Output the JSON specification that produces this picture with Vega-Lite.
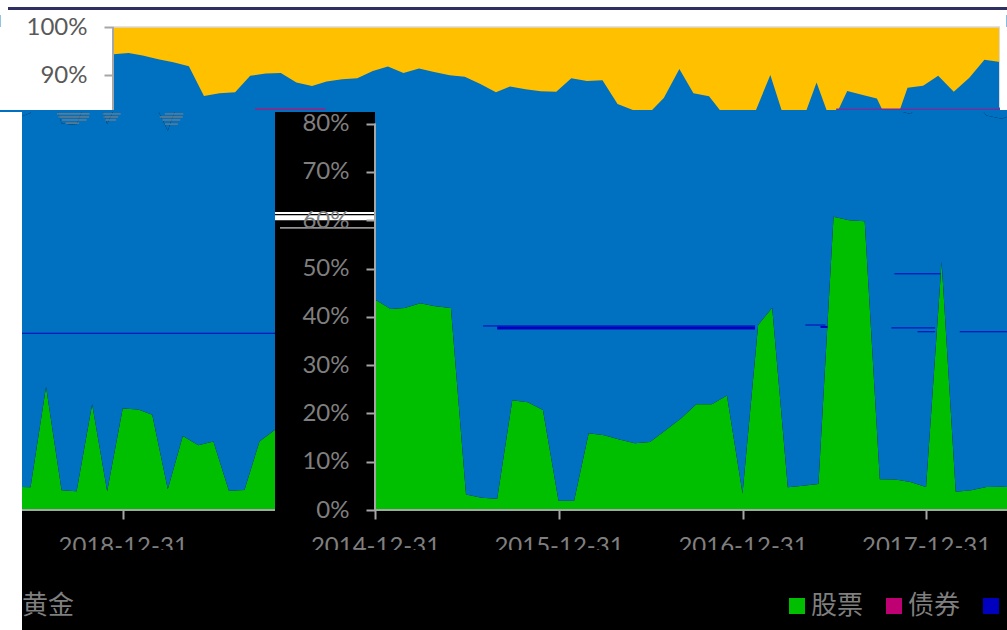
{"$schema":"https://vega.github.io/schema/vega-lite/v6.json","padding":0,"background":"#0070C0","spacing":0,"resolve":{"scale":{"color":"independent"}},"config":{"view":{"stroke":null},"font":"Lato"},"datasets":{"alloc":[
{"d":"2014-12-31","股票":0.436,"基金":0.5075,"其他":0.0565},{"d":"2015-01-31","股票":0.416,"基金":0.53,"其他":0.054},{"d":"2015-02-28","股票":0.418,"基金":0.523,"其他":0.059},{"d":"2015-03-31","股票":0.428,"基金":0.505,"其他":0.067},{"d":"2015-04-30","股票":0.422,"基金":0.505,"其他":0.073},{"d":"2015-05-31","股票":0.418,"基金":0.501,"其他":0.081},{"d":"2015-06-30","股票":0.032,"基金":0.825,"其他":0.143},{"d":"2015-07-31","股票":0.0255,"基金":0.8375,"其他":0.137},{"d":"2015-08-31","股票":0.0235,"基金":0.8415,"其他":0.135},{"d":"2015-09-30","股票":0.227,"基金":0.672,"其他":0.101},{"d":"2015-10-31","股票":0.223,"基金":0.681,"其他":0.096},{"d":"2015-11-30","股票":0.207,"基金":0.698,"其他":0.095},{"d":"2015-12-31","股票":0.019,"基金":0.866,"其他":0.115},{"d":"2016-01-31","股票":0.019,"基金":0.859,"其他":0.122},{"d":"2016-02-29","股票":0.159,"基金":0.728,"其他":0.113},{"d":"2016-03-31","股票":0.155,"基金":0.737,"其他":0.108},{"d":"2016-04-30","股票":0.146,"基金":0.748,"其他":0.106},{"d":"2016-05-31","股票":0.138,"基金":0.771,"其他":0.091},{"d":"2016-06-30","股票":0.141,"基金":0.777,"其他":0.082},{"d":"2016-07-31","股票":0.165,"基金":0.74,"其他":0.095},{"d":"2016-08-31","股票":0.19,"基金":0.724,"其他":0.086},{"d":"2016-09-30","股票":0.219,"基金":0.688,"其他":0.093},{"d":"2016-10-31","股票":0.219,"基金":0.681,"其他":0.1},{"d":"2016-11-30","股票":0.237,"基金":0.66,"其他":0.103},{"d":"2016-12-31","股票":0.034,"基金":0.848,"其他":0.118},{"d":"2017-01-31","股票":0.383,"基金":0.482,"其他":0.135},{"d":"2017-02-28","股票":0.419,"基金":0.458,"其他":0.123},{"d":"2017-03-31","股票":0.047,"基金":0.824,"其他":0.129},{"d":"2017-04-30","股票":0.05,"基金":0.817,"其他":0.133},{"d":"2017-05-31","股票":0.054,"基金":0.812,"其他":0.134},{"d":"2017-06-30","股票":0.607,"基金":0.287,"其他":0.106},{"d":"2017-07-31","股票":0.6,"基金":0.288,"其他":0.112},{"d":"2017-08-31","股票":0.598,"基金":0.292,"其他":0.11},{"d":"2017-09-30","股票":0.0635,"基金":0.777,"其他":0.1595},{"d":"2017-10-31","股票":0.063,"基金":0.765,"其他":0.172},{"d":"2017-11-30","股票":0.058,"基金":0.762,"其他":0.18},{"d":"2017-12-31","股票":0.0476,"基金":0.8054,"其他":0.147},{"d":"2018-01-31","股票":0.514,"基金":0.399,"其他":0.087},{"d":"2018-02-28","股票":0.038,"基金":0.825,"其他":0.137},{"d":"2018-03-31","股票":0.041,"基金":0.8155,"其他":0.1435},{"d":"2018-04-30","股票":0.0476,"基金":0.7694,"其他":0.183},{"d":"2018-05-31","股票":0.048,"基金":0.762,"其他":0.19},{"d":"2018-06-30","股票":0.047,"基金":0.775,"其他":0.178},{"d":"2018-07-31","股票":0.255,"基金":0.6455,"其他":0.0995},{"d":"2018-08-31","股票":0.0407,"基金":0.7593,"其他":0.2},{"d":"2018-09-30","股票":0.0387,"基金":0.7583,"其他":0.203},{"d":"2018-10-31","股票":0.219,"基金":0.666,"其他":0.115},{"d":"2018-11-30","股票":0.0387,"基金":0.7603,"其他":0.201},{"d":"2018-12-31","股票":0.21,"基金":0.6575,"其他":0.1325},{"d":"2019-01-31","股票":0.208,"基金":0.651,"其他":0.141},{"d":"2019-02-28","股票":0.197,"基金":0.655,"其他":0.148},{"d":"2019-03-31","股票":0.043,"基金":0.742,"其他":0.215},{"d":"2019-04-30","股票":0.153,"基金":0.721,"其他":0.126},{"d":"2019-05-31","股票":0.134,"基金":0.7445,"其他":0.1215},{"d":"2019-06-30","股票":0.142,"基金":0.757,"其他":0.101},{"d":"2019-07-31","股票":0.04,"基金":0.826,"其他":0.134},{"d":"2019-08-31","股票":0.0414,"基金":0.8536,"其他":0.105},{"d":"2019-09-30","股票":0.142,"基金":0.79,"其他":0.068},{"d":"2019-10-31","股票":0.166,"基金":0.7615,"其他":0.0725}]},
"vconcat":[
{"width":1007,"height":7,"view":{"fill":"#FFFFFF"},"data":{"values":[]},"mark":"rect","encoding":{}},
{"hconcat":[{"width":8,"height":3,"view":{"fill":"#FFFFFF"},"data":{"values":[]},"mark":"rect","encoding":{}},{"width":999,"height":3,"view":{"fill":"#2F2F60"},"data":{"values":[]},"mark":"rect","encoding":{}}],"bounds":"flush","spacing":0},
{"width":1007,"height":5,"view":{"fill":"#FFFFFF"},"data":{"values":[]},"mark":"rect","encoding":{}},
{"hconcat":[{"width":113,"height":83,"view":{"fill":"#FFFFFF"},"data":{"values":[]},"mark":"rect","encoding":{}},
{"width":887,"height":83,"layer":[
{"data":{"values":[{"a":"2014-05-21","b":"2019-11-13","lo":1,"hi":1.0248}]},"mark":{"type":"rect","color":"#FFFFFF"},"encoding":{"x":{"field":"a","type":"temporal","title":null,"scale":{"type":"utc","domain":["2014-12-31","2019-10-31"]},"axis":null},"x2":{"field":"b"},"y":{"field":"lo","type":"quantitative","title":null,"scale":{"domain":[0.8282,1]},"axis":{"values":[0.9,1],"format":".0%","grid":false,"domain":false,"tickColor":"#A6A6A6","tickWidth":2,"tickSize":9,"labelPadding":17,"labelFont":"Lato","labelFontSize":24,"labelColor":"#595959","zindex":1}},"y2":{"field":"hi"}}},
{"data":{"name":"alloc"},"transform":[{"fold":["股票","基金","其他"],"as":["s","v"]}],"mark":{"type":"area","clip":true},"encoding":{"x":{"field":"d","type":"temporal","title":null,"scale":{"type":"utc","domain":["2014-12-31","2019-10-31"]},"axis":null},"y":{"field":"v","type":"quantitative","stack":"zero","title":null,"scale":{"domain":[0.8282,1]},"axis":{"values":[0.9,1],"format":".0%","grid":false,"domain":false,"tickColor":"#A6A6A6","tickWidth":2,"tickSize":9,"labelPadding":17,"labelFont":"Lato","labelFontSize":24,"labelColor":"#595959","zindex":1}},"color":{"field":"s","type":"nominal","scale":{"domain":["股票","基金","其他"],"range":["#00BF00","#0070C0","#FFC000"]},"legend":null}}},
{"data":{"values":[{"a":"2018-12-09","b":"2019-10-31","y":0.8295,"c":"#7030A0"},{"a":"2015-10-10","b":"2016-02-27","y":0.8295,"c":"#A0207F"},{"a":"2014-12-31","b":"2019-10-31","y":1,"c":"#D9D9D9"}]},"mark":{"type":"rule","strokeWidth":1.5},"encoding":{"x":{"field":"a","type":"temporal","title":null,"scale":{"type":"utc","domain":["2014-12-31","2019-10-31"]}},"x2":{"field":"b"},"y":{"field":"y","type":"quantitative","title":null,"scale":{"domain":[0.8282,1]}},"color":{"field":"c","type":"nominal","scale":null,"legend":null}}},
{"data":{"values":[{"a":"2014-12-31","lo":0.8282,"hi":1,"c":"#A6A6A6"},{"a":"2019-10-31","lo":0.8335,"hi":1,"c":"#D9D9D9"}]},"mark":{"type":"rule","strokeWidth":2},"encoding":{"x":{"field":"a","type":"temporal","title":null,"scale":{"type":"utc","domain":["2014-12-31","2019-10-31"]}},"y":{"field":"lo","type":"quantitative","title":null,"scale":{"domain":[0.8282,1]}},"y2":{"field":"hi"},"color":{"field":"c","type":"nominal","scale":null,"legend":null}}}],"resolve":{"scale":{"color":"independent"}}},
{"width":7,"height":83,"view":{"fill":"#FFFFFF"},"data":{"values":[]},"mark":"rect","encoding":{}}],"bounds":"flush","spacing":0,"resolve":{"scale":{"color":"independent"}}},
{"hconcat":[{"width":22,"height":518,"view":{"fill":"#FFFFFF"},"data":{"values":[]},"mark":"rect","encoding":{}},
{"width":253,"height":518,"view":{"fill":"#000000"},"layer":[
{"data":{"name":"alloc"},"transform":[{"fold":["股票","基金","其他"],"as":["s","v"]}],"mark":{"type":"area","clip":true},"encoding":{"x":{"field":"d","type":"temporal","title":null,"scale":{"type":"utc","domain":["2018-06-13","2019-10-31"]},"axis":{"values":["2018-12-31"],"format":"%Y-%m-%d","grid":false,"orient":"bottom","offset":-120,"domain":false,"tickColor":"#A6A6A6","tickWidth":2,"tickSize":9,"labelPadding":15,"labelFont":"Lato","labelFontSize":24,"labelColor":"#7F7F7F","labelOverlap":false,"labelFlush":false}},"y":{"field":"v","type":"quantitative","stack":"zero","title":null,"scale":{"domain":[-0.2484,0.824]},"axis":null},"color":{"field":"s","type":"nominal","scale":{"domain":["股票","基金","其他"],"range":["#00BF00","#0070C0","#0070C0"]},"legend":null}}},
{"data":{"values":[{"a":"2018-06-13","b":"2019-10-31","y":0.366,"c":"#0000BF"},{"a":"2018-08-22","b":"2018-10-26","y":0.82,"c":"#7F7F7F"},{"a":"2018-08-25","b":"2018-10-25","y":0.8137,"c":"#7F7F7F"},{"a":"2018-09-01","b":"2018-10-20","y":0.8075,"c":"#7F7F7F"},{"a":"2018-09-08","b":"2018-10-05","y":0.801,"c":"#7F7F7F"},{"a":"2018-11-21","b":"2018-12-27","y":0.82,"c":"#7F7F7F"},{"a":"2018-11-23","b":"2018-12-22","y":0.8137,"c":"#7F7F7F"},{"a":"2018-11-26","b":"2018-12-18","y":0.8075,"c":"#7F7F7F"},{"a":"2019-03-25","b":"2019-05-01","y":0.82,"c":"#7F7F7F"},{"a":"2019-03-15","b":"2019-04-30","y":0.8137,"c":"#7F7F7F"},{"a":"2019-03-20","b":"2019-04-25","y":0.8075,"c":"#7F7F7F"},{"a":"2019-03-25","b":"2019-04-20","y":0.799,"c":"#7F7F7F"}]},"mark":{"type":"rule","strokeWidth":1.2},"encoding":{"x":{"field":"a","type":"temporal","title":null,"scale":{"type":"utc","domain":["2018-06-13","2019-10-31"]}},"x2":{"field":"b"},"y":{"field":"y","type":"quantitative","title":null,"scale":{"domain":[-0.2484,0.824]}},"color":{"field":"c","type":"nominal","scale":null,"legend":null}}},
{"data":{"values":[{"a":"2018-06-13","b":"2019-10-31","y":0}]},"mark":{"type":"rule","color":"#A6A6A6","strokeWidth":2},"encoding":{"x":{"field":"a","type":"temporal","title":null,"scale":{"type":"utc","domain":["2018-06-13","2019-10-31"]}},"x2":{"field":"b"},"y":{"field":"y","type":"quantitative","title":null,"scale":{"domain":[-0.2484,0.824]}}}},
{"data":{"values":[{"a":"2018-06-13","b":"2019-10-31","lo":-0.0828,"hi":-0.2484}]},"mark":{"type":"rect","color":"#000000"},"encoding":{"x":{"field":"a","type":"temporal","title":null,"scale":{"type":"utc","domain":["2018-06-13","2019-10-31"]}},"x2":{"field":"b"},"y":{"field":"lo","type":"quantitative","title":null,"scale":{"domain":[-0.2484,0.824]}},"y2":{"field":"hi"}}},
{"data":{"values":[{"a":"2018-06-13","y":-0.198,"t":"黄金"}]},"mark":{"type":"text","align":"left","font":"Noto Sans CJK SC","fontSize":26,"color":"#7F7F7F"},"encoding":{"text":{"field":"t"},"x":{"field":"a","type":"temporal","title":null,"scale":{"type":"utc","domain":["2018-06-13","2019-10-31"]}},"y":{"field":"y","type":"quantitative","title":null,"scale":{"domain":[-0.2484,0.824]}}}}],"resolve":{"scale":{"color":"independent"}}},
{"width":100,"height":518,"view":{"fill":"#000000"},"data":{"values":[{"a":0,"b":1,"y":0.605,"w":5},{"a":0,"b":1,"y":0.615,"w":2},{"a":0.05,"b":1,"y":0.584,"w":1}]},"mark":{"type":"rule","color":"#FFFFFF"},"encoding":{"x":{"field":"a","type":"quantitative","scale":{"domain":[0,1]},"axis":null},"x2":{"field":"b"},"y":{"field":"y","type":"quantitative","scale":{"domain":[-0.2484,0.824]},"axis":null},"strokeWidth":{"field":"w","type":"quantitative","scale":null,"legend":null}}},
{"width":632,"height":518,"view":{"fill":"#000000"},"resolve":{"scale":{"color":"independent"}},"layer":[
{"data":{"name":"alloc"},"transform":[{"fold":["股票","基金","其他"],"as":["s","v"]}],"mark":{"type":"area","clip":true},"encoding":{"x":{"field":"d","type":"temporal","title":null,"scale":{"type":"utc","domain":["2014-12-31","2018-06-10"]},"axis":{"values":["2014-12-31","2015-12-31","2016-12-31","2017-12-31"],"format":"%Y-%m-%d","grid":false,"orient":"bottom","offset":-120,"domain":false,"tickColor":"#A6A6A6","tickWidth":2,"tickSize":9,"labelPadding":15,"labelFont":"Lato","labelFontSize":24,"labelColor":"#7F7F7F","labelOverlap":false,"labelFlush":false}},"y":{"field":"v","type":"quantitative","stack":"zero","title":null,"scale":{"domain":[-0.2484,0.824]},"axis":{"values":[0,0.1,0.2,0.3,0.4,0.5,0.6,0.7,0.8],"format":".0%","grid":false,"domain":false,"tickColor":"#A6A6A6","tickWidth":2,"tickSize":9,"labelPadding":17,"labelFont":"Lato","labelFontSize":24,"labelColor":"#7F7F7F","labelOverlap":false,"labelFlush":false,"zindex":1}},"color":{"field":"s","type":"nominal","scale":{"domain":["股票","基金","其他"],"range":["#00BF00","#0070C0","#0070C0"]},"legend":null}}},
{"data":{"values":[{"a":"2015-08-03","b":"2017-01-25","y":0.381,"w":1},{"a":"2015-08-31","b":"2017-01-25","y":0.377,"w":3},{"a":"2017-05-05","b":"2017-06-14","y":0.383,"w":1},{"a":"2017-06-04","b":"2017-06-18","y":0.379,"w":2},{"a":"2017-10-29","b":"2018-01-29","y":0.489,"w":1},{"a":"2017-10-23","b":"2018-01-18","y":0.377,"w":1},{"a":"2017-12-14","b":"2018-01-18","y":0.369,"w":1},{"a":"2018-03-08","b":"2018-06-10","y":0.369,"w":1}]},"mark":{"type":"rule","color":"#0000BF"},"encoding":{"x":{"field":"a","type":"temporal","title":null,"scale":{"type":"utc","domain":["2014-12-31","2018-06-10"]}},"x2":{"field":"b"},"y":{"field":"y","type":"quantitative","title":null,"scale":{"domain":[-0.2484,0.824]}},"strokeWidth":{"field":"w","type":"quantitative","scale":null,"legend":null}}},
{"data":{"values":[{"a":"2014-12-31","lo":0,"hi":0.8}]},"mark":{"type":"rule","color":"#A6A6A6","strokeWidth":2},"encoding":{"x":{"field":"a","type":"temporal","title":null,"scale":{"type":"utc","domain":["2014-12-31","2018-06-10"]}},"y":{"field":"lo","type":"quantitative","title":null,"scale":{"domain":[-0.2484,0.824]}},"y2":{"field":"hi"}}},
{"data":{"values":[{"a":"2014-12-31","b":"2018-06-10","y":0}]},"mark":{"type":"rule","color":"#A6A6A6","strokeWidth":2},"encoding":{"x":{"field":"a","type":"temporal","title":null,"scale":{"type":"utc","domain":["2014-12-31","2018-06-10"]}},"x2":{"field":"b"},"y":{"field":"y","type":"quantitative","title":null,"scale":{"domain":[-0.2484,0.824]}}}},
{"data":{"values":[{"a":"2014-08-01","b":"2018-06-10","lo":-0.0828,"hi":-0.2484}]},"mark":{"type":"rect","color":"#000000"},"encoding":{"x":{"field":"a","type":"temporal","title":null,"scale":{"type":"utc","domain":["2014-12-31","2018-06-10"]}},"x2":{"field":"b"},"y":{"field":"lo","type":"quantitative","title":null,"scale":{"domain":[-0.2484,0.824]}},"y2":{"field":"hi"}}},
{"data":{"values":[{"s":"股票"},{"s":"债券"},{"s":"黄金"}]},"mark":{"type":"square","opacity":0},"encoding":{"color":{"field":"s","type":"nominal","scale":{"domain":["股票","债券","黄金"],"range":["#00BF00","#BF0073","#0000BF"]},"legend":{"orient":"none","legendX":409,"legendY":481,"direction":"horizontal","columns":3,"title":null,"symbolType":"square","symbolSize":256,"symbolOpacity":1,"symbolStrokeWidth":0,"labelFont":"Noto Sans CJK SC","labelFontSize":26,"labelColor":"#7F7F7F","labelOffset":1,"columnPadding":17,"labelExpr":"datum.label == '黄金' ? '' : datum.label"}}}}]}],"bounds":"flush","spacing":0,"resolve":{"scale":{"color":"independent"}}}
]}
